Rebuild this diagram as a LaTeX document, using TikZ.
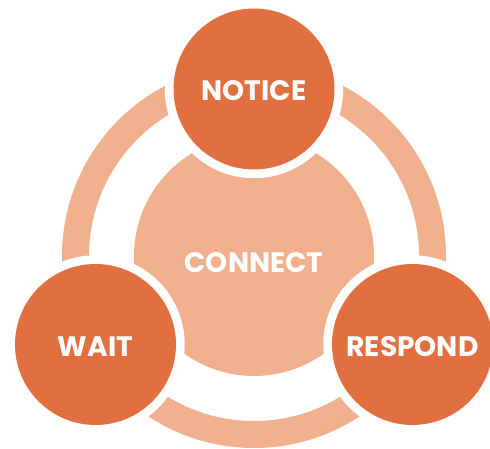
\documentclass[tikz,border=0pt]{standalone}
\usepackage{fontspec}
\setmainfont{Poppins}
\usepackage{tikz}

\definecolor{darkorange}{HTML}{E16F3F}
\definecolor{lightorange}{HTML}{F0B08E}

\begin{document}
\begin{tikzpicture}[x=0.02cm, y=-0.02cm,
  word/.style={text=white, font=\fontsize{16}{16}\selectfont\bfseries, text depth=0pt},
  stage/.style={word, circle, fill=darkorange, minimum size=3.22cm, inner sep=0pt,
    text height=0.48cm, preaction={draw=white, line width=0.35cm}}]
\clip (0,0) rectangle (490,449);

% outer ring and centre disc
\fill[lightorange, even odd rule] (254,256) circle[radius=192] circle[radius=165];
\node[word, circle, fill=lightorange, minimum size=4.8cm, inner sep=0pt,
  text height=0.65cm] (connect) at (254,256) {CONNECT};

% the three stages
\node[stage] (notice) at (254,89) {NOTICE};
\node[stage] (wait) at (95.5,344.5) {WAIT};
\node[stage] (respond) at (412.5,344.5) {RESPOND};
\end{tikzpicture}
\end{document}
